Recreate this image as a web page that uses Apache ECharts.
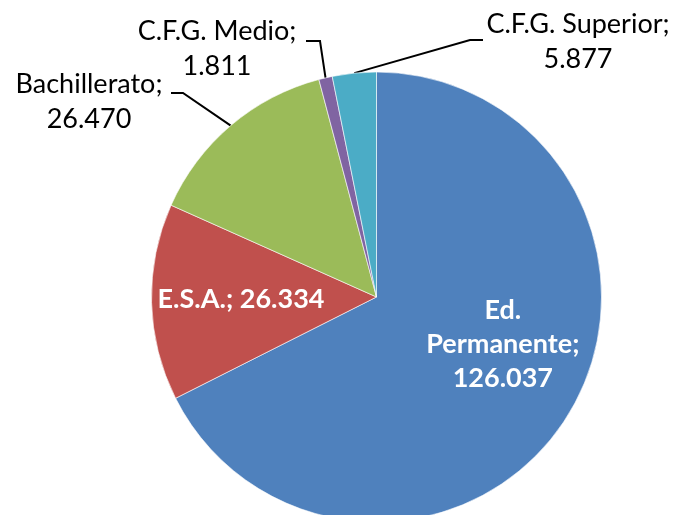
<!DOCTYPE html>
<html><head><meta charset="utf-8">
<script src="https://cdn.jsdelivr.net/npm/echarts@6/dist/echarts.min.js"></script>
<style>html,body{margin:0;padding:0;background:#fff}#c{width:679px;height:515px}</style>
</head><body><div id="c"></div>
<script>
const categories = ['Ed. Permanente', 'E.S.A.', 'Bachillerato', 'C.F.G. Medio', 'C.F.G. Superior'];
const values = [126037, 26334, 26470, 1811, 5877];
const labelNames = ['Ed.\nPermanente', 'E.S.A.', 'Bachillerato', 'C.F.G. Medio', 'C.F.G. Superior'];
const labelSeparators = [';\n', '; ', ';\n', ';\n', ';\n'];
const colors = ['#4F81BD', '#C0504D', '#9BBB59', '#8064A2', '#4BACC6'];

const CX = 376.5, CY = 297, R = 225;
const FONT = 'Lato';
const total = values.reduce((a, b) => a + b, 0);
function fmt(v) { return String(v).replace(/\B(?=(\d{3})+(?!\d))/g, '.'); }
function midAngle(i) { let s = 0; for (let k = 0; k < i; k++) s += values[k]; return (s + values[i] / 2) / total * 2 * Math.PI; }
function edgePoint(i) { const a = midAngle(i); return [CX + R * Math.sin(a), CY - R * Math.cos(a)]; }

// label placement (layout, not data)
const layoutCfg = {
  0: { dx: 28, dy: -13 },
  1: { dx: -20, dy: 0 },
  2: { x: 89, y: 102, elbow: [183, 93], end: [171, 93] },
  3: { x: 217, y: 49, elbow: [320, 41], end: [306, 41] },
  4: { x: 578, y: 42, elbow: [470, 40], end: [483, 40] }
};
const insideSet = [true, true, false, false, false];

const chart = echarts.init(document.getElementById('c'), null, { renderer: 'canvas' });
chart.setOption({
  backgroundColor: '#fff',
  animation: false,
  series: [{
    type: 'pie',
    center: [CX, CY],
    radius: R,
    startAngle: 90,
    clockwise: true,
    avoidLabelOverlap: false,
    itemStyle: { borderColor: '#ffffff', borderWidth: 0.6 },
    emphasis: { disabled: true },
    data: categories.map((c, i) => ({
      name: c,
      value: values[i],
      itemStyle: { color: colors[i] },
      label: insideSet[i] ? {
        position: 'inside', color: '#fff', fontWeight: 'bold', fontSize: 27,
        fontFamily: FONT, lineHeight: 34, align: 'center'
      } : {
        position: 'outside', color: '#000', fontWeight: 'normal', fontSize: 27,
        fontFamily: FONT, lineHeight: 35, align: 'center'
      },
      labelLine: insideSet[i] ? { show: false } : { show: true, lineStyle: { color: '#000', width: 2 } }
    })),
    label: {
      show: true,
      formatter: p => labelNames[p.dataIndex] + labelSeparators[p.dataIndex] + fmt(values[p.dataIndex])
    },
    labelLayout: function (params) {
      const i = params.dataIndex;
      const cfg = layoutCfg[i];
      if (!cfg) return {};
      if (cfg.x == null) return { dx: cfg.dx, dy: cfg.dy };
      return {
        x: cfg.x, y: cfg.y, align: 'center', verticalAlign: 'middle',
        labelLinePoints: [edgePoint(i), cfg.elbow, cfg.end]
      };
    }
  }]
});
</script></body></html>
